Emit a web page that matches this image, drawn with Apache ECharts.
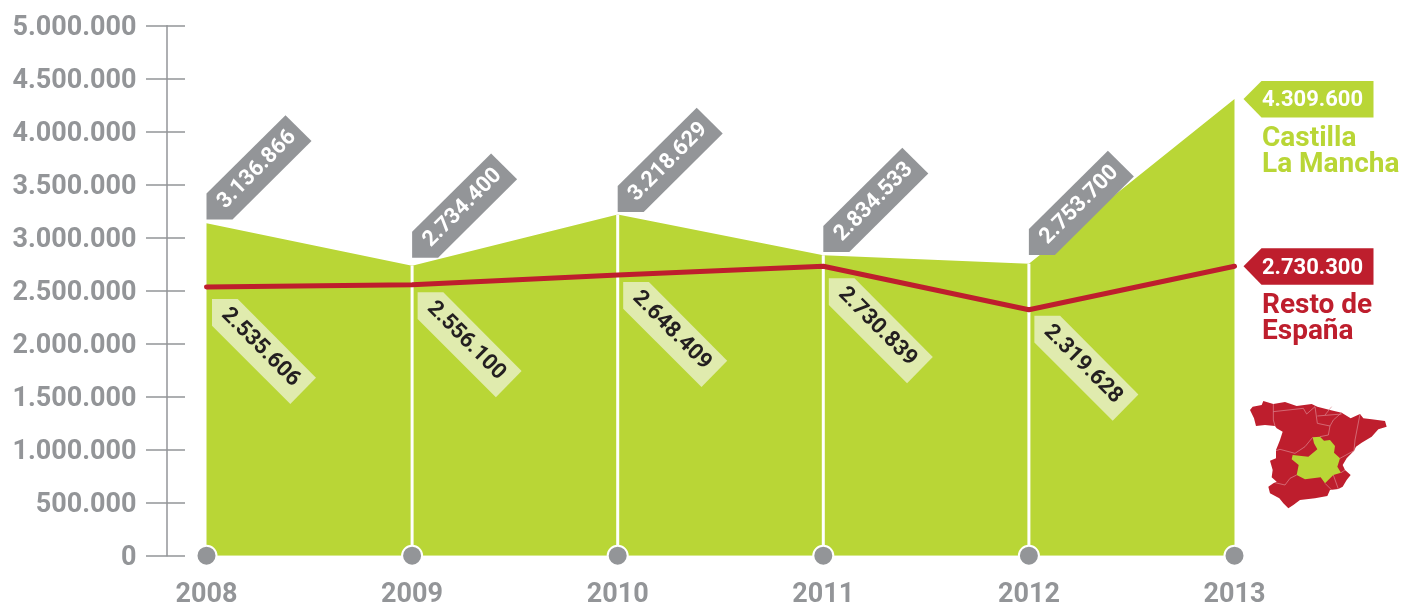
<!DOCTYPE html>
<html>
<head>
<meta charset="utf-8">
<style>html,body{margin:0;padding:0;background:#fff}#c{width:1403px;height:604px}</style>
<script src="https://cdn.jsdelivr.net/npm/echarts@6/dist/echarts.min.js"></script>
</head>
<body>
<div id="c"></div>
<script>
var years = ['2008','2009','2010','2011','2012','2013'];
var castilla = [3136866,2734400,3218629,2834533,2753700,4309600];
var resto = [2535606,2556100,2648409,2730839,2319628,2730300];
var yTicks = [0,500000,1000000,1500000,2000000,2500000,3000000,3500000,4000000,4500000,5000000];
var castillaName = 'Castilla\nLa Mancha';
var restoName = 'Resto de\nEspaña';

// layout only: distance between each tag and the point it belongs to
var upperTagGap = [3.7,8,2.5,3.2,8.8];
var lowerTagGap = [12,7.5,7,12,6];

var GREEN='#B9D636', RED='#BE1E2D', GRAY='#939598', PALE='#E0EBAE', INK='#231F20';
var FONT='Roboto, sans-serif';
function fmt(v){return String(v).replace(/\B(?=(\d{3})+$)/g,'.');}
function poly(a,b,pts,fill){
  return {type:'polygon',shape:{points:pts.map(function(p){return [a+p[0],b+p[1]];})},style:{fill:fill}};
}
function upperTag(params,api){
  var p=api.coord([api.value(0),api.value(1)]);
  var i=params.dataIndex, y=p[1]-upperTagGap[i];
  return {type:'group',children:[
    poly(p[0],y,[[0,0],[0,-26],[79,-104.3],[105,-78.6],[26,0]],GRAY),
    {type:'text',x:p[0]+50.5,y:y-50,rotation:Math.PI/4,style:{text:fmt(api.value(1)),fill:'#fff',font:'700 22px '+FONT,align:'center',verticalAlign:'middle'}}
  ]};
}
function lowerTag(params,api){
  var p=api.coord([api.value(0),api.value(1)]);
  var i=params.dataIndex, y=p[1]+lowerTagGap[i];
  return {type:'group',children:[
    poly(p[0],y,[[5.5,0],[31.2,0],[109.5,78.7],[83.8,105],[5.5,26.7]],PALE),
    {type:'text',x:p[0]+54,y:y+48.5,rotation:-Math.PI/4,style:{text:fmt(api.value(1)),fill:INK,font:'700 22px '+FONT,align:'center',verticalAlign:'middle'}}
  ]};
}
function endTag(fill){
  return function(params,api){
    var p=api.coord([api.value(0),api.value(1)]);
    return {type:'group',children:[
      poly(p[0],p[1],[[9,0],[27,-18],[139,-18],[139,18.5],[27,18.5]],fill),
      {type:'text',x:p[0]+78,y:p[1]+2,style:{text:fmt(api.value(1)),fill:'#fff',font:'700 22px '+FONT,align:'center',verticalAlign:'middle'}}
    ]};
  };
}
var spain=[[60,60],[68,50],[95,45],[100,33],[130,42],[165,36],[200,48],[245,42],[262,50],[300,60],[335,68],[362,85],[390,72],[400,85],[425,88],[465,93],[470,110],[445,118],[425,140],[395,158],[378,170],[372,182],[350,205],[338,225],[345,240],[362,255],[350,270],[338,290],[325,297],[300,300],[292,318],[255,325],[210,330],[190,345],[175,355],[160,340],[148,325],[120,310],[115,290],[130,280],[140,275],[125,262],[128,240],[120,212],[138,205],[138,180],[150,150],[158,125],[140,115],[135,108],[105,105],[78,108],[72,85]];
var clm=[[248,142],[270,140],[282,152],[300,150],[315,168],[312,188],[330,205],[322,230],[333,248],[310,255],[285,280],[272,262],[225,268],[200,255],[206,225],[185,208],[188,195],[235,200],[262,178],[252,160]];
var borders=[
 [[130,42],[130,90],[135,108]],[[130,65],[220,55],[230,72],[255,50]],[[255,50],[262,100],[300,108],[310,90],[335,68]],
 [[285,75],[305,50]],[[262,78],[335,72]],[[300,108],[295,135],[270,140]],[[248,142],[225,170],[195,190],[150,178],[138,182]],
 [[390,72],[375,150],[372,182]],[[330,205],[372,182]],[[333,248],[345,240]],
 [[200,255],[180,265],[165,285],[135,278]],[[285,280],[305,300]],[[310,255],[325,297]]
];
var mapShapes=[{type:'polygon',shape:{points:spain},style:{fill:RED}}].concat(
  borders.map(function(b){return {type:'polyline',shape:{points:b},style:{stroke:'#DE8C95',lineWidth:2,fill:null}};}),
  [{type:'polygon',shape:{points:clm},style:{fill:GREEN}}]
);
var chart=echarts.init(document.getElementById('c'),null,{renderer:'canvas'});
var idx=function(arr){return arr.map(function(v,i){return [i,v];});};
var axisBase={type:'value',min:0,max:5000000,interval:500000,position:'left',offset:39.5,splitLine:{show:false}};
chart.setOption({
  animation:false,
  backgroundColor:'#fff',
  grid:{left:206.5,right:168.5,top:25.7,bottom:48.3,containLabel:false,outerBoundsMode:'none'},
  xAxis:{type:'category',data:years,boundaryGap:false,
    axisLine:{show:false},axisTick:{show:false},
    axisLabel:{color:GRAY,fontFamily:FONT,fontWeight:700,fontSize:27,margin:26,interval:0,hideOverlap:false,alignMinLabel:'center',alignMaxLabel:'center'}},
  yAxis:[
    Object.assign({},axisBase,{
      axisLine:{show:true,lineStyle:{color:GRAY,width:1.5}},
      axisTick:{show:true,length:21,lineStyle:{color:GRAY,width:1.5}},
      axisLabel:{show:true,color:GRAY,fontFamily:FONT,fontWeight:700,fontSize:27,margin:30.5,verticalAlign:'top',lineHeight:5,
        customValues:yTicks,
        formatter:function(v){return fmt(v);}}
    }),
    Object.assign({},axisBase,{
      axisLine:{show:false},
      axisTick:{show:true,inside:true,length:18,lineStyle:{color:GRAY,width:1.5}},
      axisLabel:{show:false}
    })
  ],
  series:[
    {name:'Castilla La Mancha',type:'line',data:castilla,symbol:'none',lineStyle:{width:0},areaStyle:{color:GREEN,opacity:1},z:2},
    {type:'bar',data:castilla.map(function(v,i){return (i>0&&i<castilla.length-1)?v:null;}),barWidth:3,itemStyle:{color:'#fff'},z:3,silent:true},
    {type:'custom',data:idx(castilla.slice(0,5)),renderItem:upperTag,z:4,silent:true},
    {type:'custom',data:idx(resto.slice(0,5)),renderItem:lowerTag,z:4,silent:true},
    {name:'Resto de España',type:'line',data:resto,symbol:'none',lineStyle:{color:RED,width:5,cap:'round',join:'round'},z:5},
    {type:'custom',data:[[5,castilla[5]]],renderItem:endTag(GREEN),z:4,silent:true},
    {type:'custom',data:[[5,resto[5]]],renderItem:endTag(RED),z:4,silent:true},
    {type:'scatter',data:idx(years.map(function(){return 0;})),symbolSize:20,clip:false,itemStyle:{color:GRAY,borderColor:'#fff',borderWidth:2,opacity:1},z:6,silent:true}
  ],
  graphic:[
    {type:'text',x:1262,y:126,style:{text:castillaName,fill:GREEN,font:'700 28px '+FONT,lineHeight:26}},
    {type:'text',x:1262,y:292.5,style:{text:restoName,fill:RED,font:'700 28px '+FONT,lineHeight:26}},
    {type:'group',x:1230,y:390,scaleX:1/3,scaleY:1/3,children:mapShapes}
  ]
});
</script>
</body>
</html>
